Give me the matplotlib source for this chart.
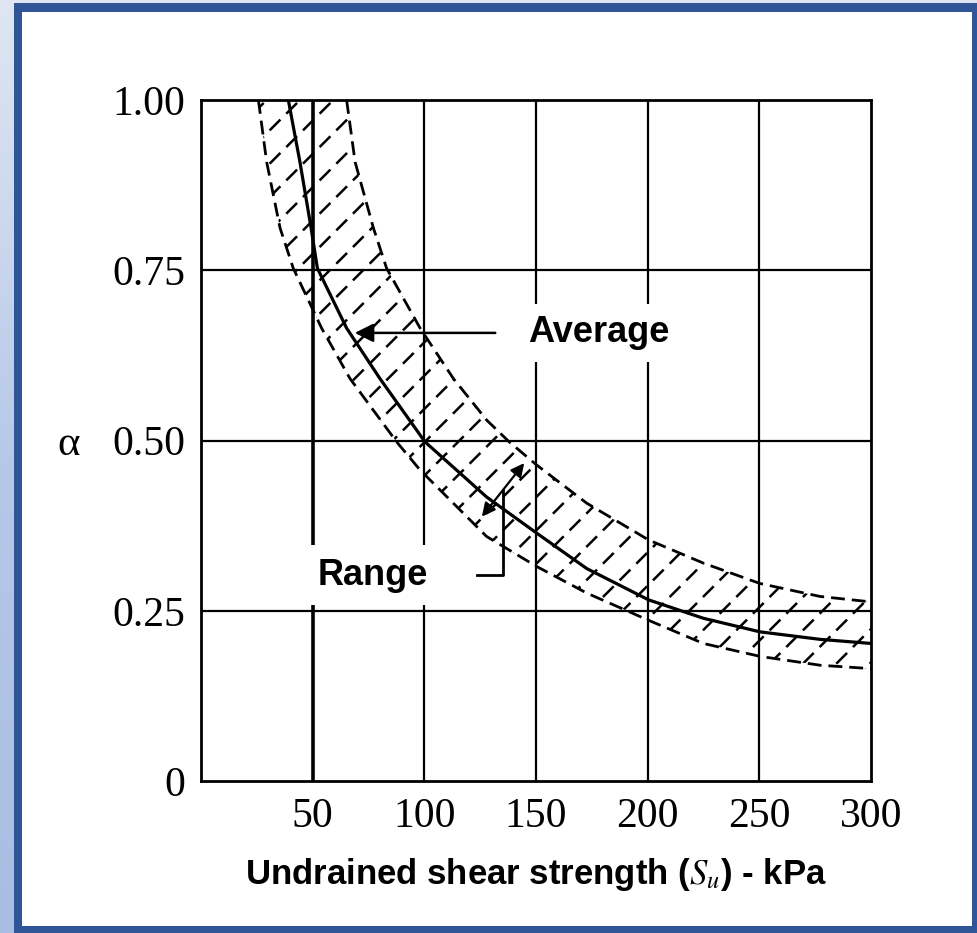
import matplotlib
matplotlib.use("Agg")
import matplotlib.pyplot as plt
import numpy as np
from matplotlib.patches import Rectangle

# Values (alpha vs undrained shear strength, kPa)
avg_su = [39.1, 44.3, 49.3, 52.1, 65.2, 80.1, 100.3, 127.9, 150.3, 172.7, 200.4, 224.9, 250.3, 277.2, 300]
avg_alpha = [1.00, 0.909, 0.812, 0.753, 0.665, 0.591, 0.498, 0.417, 0.364, 0.312, 0.266, 0.239, 0.219, 0.208, 0.202]

low_su = [25.7, 29.4, 35.4, 41.3, 54.0, 66.7, 87.6, 98, 127.9, 150.3, 172.7, 200.4, 224.9, 250.3, 277.2, 300]
low_alpha = [1.00, 0.909, 0.812, 0.753, 0.665, 0.591, 0.498, 0.457, 0.359, 0.315, 0.276, 0.236, 0.202, 0.183, 0.170, 0.165]

up_su = [65.2, 69.0, 77.2, 83.1, 98.1, 113, 127.9, 138, 150.3, 172.7, 200.4, 224.9, 250.3, 277.2, 300]
up_alpha = [1.00, 0.909, 0.812, 0.753, 0.665, 0.591, 0.530, 0.498, 0.464, 0.408, 0.354, 0.320, 0.290, 0.271, 0.263]

x_ticks = [50, 100, 150, 200, 250, 300]
y_ticks = [0, 0.25, 0.50, 0.75, 1.00]
y_labels = ["0", "0.25", "0.50", "0.75", "1.00"]

plt.rcParams['mathtext.fontset'] = 'stix'

W, H = 977, 933
fig = plt.figure(figsize=(W / 100, H / 100), dpi=100)

# background: light blue gradient, dark blue frame, white panel
bg = fig.add_axes([0, 0, 1, 1], zorder=-10)
grad = np.linspace(0, 1, 256).reshape(-1, 1)
cmap = matplotlib.colors.LinearSegmentedColormap.from_list("bg", ["#dfe6f2", "#b6c8e8", "#a8bde2"])
bg.imshow(grad, aspect='auto', cmap=cmap, extent=[0, 1, 0, 1], origin='upper')
bg.add_patch(Rectangle((14 / W, 0), 1 - 14 / W, 1 - 3 / H, facecolor='#2f5597', edgecolor='none'))
bg.add_patch(Rectangle((22 / W, 7 / H), 1 - 27 / W, 1 - 19 / H, facecolor='white', edgecolor='none'))
bg.set_xlim(0, 1)
bg.set_ylim(0, 1)
bg.axis('off')

ax = fig.add_axes([201 / W, 1 - 781 / H, 670 / W, 681 / H])
ax.set_facecolor('none')
ax.set_xlim(0, 300)
ax.set_ylim(0, 1.0)

# shaded range band: black '/' hatch broken into short dashes by a white '\' hatch
su_grid = np.union1d(low_su, up_su)
lo = np.interp(su_grid, low_su, low_alpha)
hi = np.interp(su_grid, up_su, up_alpha, left=1.0)
plt.rcParams['hatch.linewidth'] = 1.8
band = ax.fill_between(su_grid, lo, hi, facecolor='none', edgecolor='black',
                       hatch='/', linewidth=0, zorder=1)
plt.rcParams['hatch.linewidth'] = 6.0
cut = ax.fill_between(su_grid, lo, hi, facecolor='none', edgecolor='white',
                      hatch='\\', linewidth=0, zorder=1.5)
if hasattr(band, 'set_hatch_linewidth'):
    band.set_hatch_linewidth(1.8)
    cut.set_hatch_linewidth(6.0)

# grid
for xv in x_ticks[:-1]:
    ax.axvline(xv, color='black', lw=2.6 if xv == 50 else 1.6, zorder=2)
for yv in y_ticks[1:-1]:
    ax.axhline(yv, color='black', lw=1.6, zorder=2)

# curves
ax.plot(avg_su, avg_alpha, color='black', lw=2.3, zorder=3)
ax.plot(low_su, low_alpha, color='black', lw=2.0, ls=(0, (5, 2.5)), zorder=3)
ax.plot(up_su, up_alpha, color='black', lw=2.0, ls=(0, (5, 2.5)), zorder=3)

for sp in ax.spines.values():
    sp.set_linewidth(2.0)
    sp.set_color('black')
    sp.set_zorder(3)

ax.set_xticks(x_ticks)
ax.set_yticks(y_ticks)
ax.set_yticklabels(y_labels)
ax.tick_params(length=0, labelsize=30)
ax.tick_params(axis='y', pad=11)
ax.tick_params(axis='x', pad=12)
for lab in ax.get_xticklabels() + ax.get_yticklabels():
    lab.set_family('Liberation Serif')

ax.text(-0.198, 0.5, '\u03b1', transform=ax.transAxes, fontsize=31, family='Liberation Serif',
        ha='center', va='center_baseline')

ax.set_xlabel(r'Undrained shear strength ($S_u$) - kPa', fontsize=25, fontweight='bold',
              family='Liberation Sans', labelpad=14)

# annotations
ax.annotate('', xy=(67.6, 0.658), xytext=(133, 0.658),
            arrowprops=dict(arrowstyle='-|>', color='black', lw=1.8, mutation_scale=28), zorder=4)
ax.text(178, 0.658, 'Average', fontsize=26, fontweight='bold', family='Liberation Sans',
        ha='center', va='center', zorder=5,
        bbox=dict(facecolor='white', edgecolor='none', pad=8))

ax.annotate('', xy=(125, 0.385), xytext=(145.5, 0.47),
            arrowprops=dict(arrowstyle='<|-|>', color='black', lw=1.6, mutation_scale=20), zorder=4)
ax.plot([123.6, 135.2, 135.2], [0.3025, 0.3025, 0.427], color='black', lw=2.0, zorder=4)
ax.text(77, 0.302, 'Range', fontsize=26, fontweight='bold', family='Liberation Sans',
        ha='center', va='center', zorder=5,
        bbox=dict(facecolor='white', edgecolor='none', pad=9))

fig.savefig('out.png', dpi=100)
